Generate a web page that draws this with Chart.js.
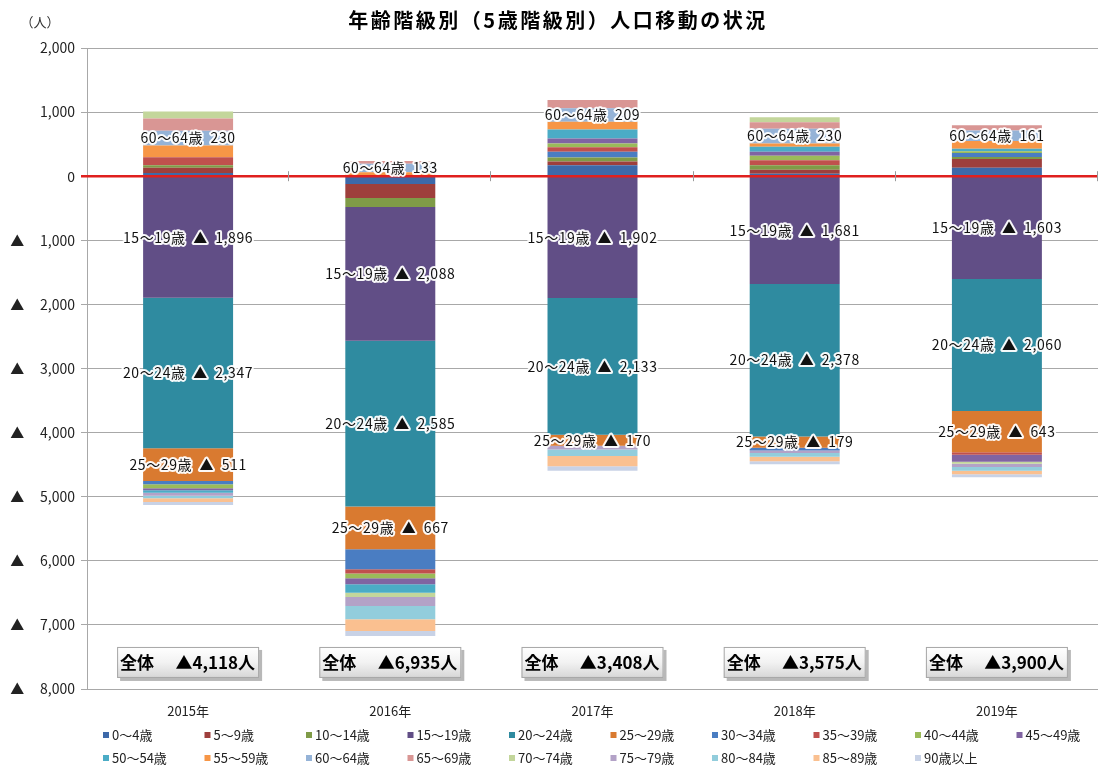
<!DOCTYPE html>
<html>
<head>
<meta charset="utf-8">
<script src="https://cdn.jsdelivr.net/npm/chart.js@4.4.0/dist/chart.umd.min.js"></script>
<style>
  html, body { margin: 0; padding: 0; background: #fff; }
  #wrap { width: 1103px; height: 769px; position: relative; }
</style>
</head>
<body>
<div id="wrap"><canvas id="migrationChart" width="1103" height="769"></canvas></div>
<script>
// 年次（カテゴリ）
const years = ['2015年', '2016年', '2017年', '2018年', '2019年'];
// 全体の転入超過数（▲は転出超過）
const totals = [-4118, -6935, -3408, -3575, -3900];
// 年齢階級
const ageGroups = ['0～4歳', '5～9歳', '10～14歳', '15～19歳', '20～24歳', '25～29歳', '30～34歳',
    '35～39歳', '40～44歳', '45～49歳', '50～54歳', '55～59歳', '60～64歳', '65～69歳',
    '70～74歳', '75～79歳', '80～84歳', '85～89歳', '90歳以上'];

// 年齢階級別の値（2015〜2019）
const age00 = [50, -120, 170, 40, 130];
const age05 = [80, -220, 60, 60, 140];
const age10 = [40, -140, 60, 70, 30];
const age15 = [-1896, -2088, -1902, -1681, -1603];
const age20 = [-2347, -2585, -2133, -2378, -2060];
const age25 = [-511, -667, -170, -179, -643];
const age30 = [-50, -312, 90, -40, 60];
const age35 = [125, -68, 70, 80, -40];
const age40 = [-65, -73, 60, 70, 30];
const age45 = [-30, -94, 80, 60, -110];
const age50 = [-40, -130, 140, 80, 40];
const age55 = [185, 60, 120, 50, 120];
const age60 = [230, 133, 209, 230, 161];
const age65 = [190, 45, 130, 100, 84];
const age70 = [110, -68, 0, 80, -30];
const age75 = [-45, -140, -60, -40, -50];
const age80 = [-40, -208, -100, -60, -60];
const age85 = [-60, -182, -160, -70, -55];
const age90 = [-44, -78, -72, -47, -44];

const seriesValues = [age00, age05, age10, age15, age20, age25, age30, age35, age40, age45,
    age50, age55, age60, age65, age70, age75, age80, age85, age90];

const seriesColors = ['#3D69A9', '#9E3F3C', '#7F9B47', '#614E86', '#2F8BA0', '#D97A30', '#4A7DC2',
    '#C0504D', '#9BBB59', '#8064A2', '#4BACC6', '#F79646', '#95B3D7', '#D99694',
    '#C3D69B', '#B3A2C7', '#92CDDC', '#FAC090', '#C8D2E6'];

// ラベルを付ける系列
const labelledSeries = [3, 4, 5, 12];

const jpFont = '"Noto Sans CJK JP", "Noto Sans", sans-serif';

function fmt(n) {
    return Math.abs(n).toLocaleString('en-US');
}

// 0ライン・データラベル・全体ボックス・凡例・タイトル
const overlayPlugin = {
    id: 'overlay',
    afterDatasetsDraw(chart) {
        const ctx = chart.ctx;
        const area = chart.chartArea;
        const yScale = chart.scales.y;
        const xScale = chart.scales.x;
        const y0 = yScale.getPixelForValue(0);

        // ✅ 0 line (red)
        ctx.save();
        ctx.strokeStyle = '#E0201E';
        ctx.lineWidth = 2.5;
        ctx.beginPath();
        ctx.moveTo(area.left - 6, y0);
        ctx.lineTo(area.right, y0);
        ctx.stroke();
        // category boundary ticks on the zero line
        ctx.strokeStyle = '#999';
        ctx.lineWidth = 1;
        const step = (area.right - area.left) / years.length;
        for (let k = 1; k <= years.length; k++) {
            const x = Math.round(area.left + step * k) - 0.5;
            ctx.beginPath();
            ctx.moveTo(x, y0 - 5);
            ctx.lineTo(x, y0 + 5);
            ctx.stroke();
        }
        ctx.restore();

        // ✅ data labels
        ctx.save();
        ctx.font = '14px ' + jpFont;
        ctx.letterSpacing = '0.6px';
        ctx.textAlign = 'center';
        ctx.textBaseline = 'middle';
        ctx.lineJoin = 'round';
        labelledSeries.forEach(function (si) {
            const meta = chart.getDatasetMeta(si);
            meta.data.forEach(function (bar, j) {
                const v = seriesValues[si][j];
                const txt = ageGroups[si] + '  ' + (v < 0 ? '▲  ' : '') + fmt(v);
                const ym = (bar.y + bar.base) / 2;
                ctx.strokeStyle = 'rgba(255,255,255,0.95)';
                ctx.lineWidth = 4;
                ctx.strokeText(txt, bar.x, ym);
                ctx.fillStyle = '#111';
                ctx.fillText(txt, bar.x, ym);
            });
        });
        ctx.restore();

        // ✅ 全体 boxes
        ctx.save();
        const boxY = yScale.getPixelForValue(-7500) - 10;
        totals.forEach(function (t, j) {
            const cx = xScale.getPixelForValue(j);
            const w = 142, h = 31;
            const x = cx - w / 2;
            ctx.fillStyle = '#B8B8B8';
            ctx.fillRect(x + 3, boxY + 3, w, h);
            const g = ctx.createLinearGradient(0, boxY, 0, boxY + h);
            g.addColorStop(0, '#FFFFFF');
            g.addColorStop(0.5, '#F2F2F2');
            g.addColorStop(1, '#D6D6D6');
            ctx.fillStyle = g;
            ctx.fillRect(x, boxY, w, h);
            ctx.strokeStyle = '#A6A6A6';
            ctx.lineWidth = 1;
            ctx.strokeRect(x + 0.5, boxY + 0.5, w - 1, h - 1);
            ctx.fillStyle = '#000';
            ctx.font = 'bold 17px ' + jpFont;
            ctx.textBaseline = 'middle';
            ctx.textAlign = 'left';
            ctx.fillText('全体', x + 3, boxY + h / 2);
            ctx.textAlign = 'right';
            ctx.fillText('▲' + fmt(t) + '人', x + w - 4, boxY + h / 2);
        });
        ctx.restore();
    },
    afterDraw(chart) {
        const ctx = chart.ctx;
        ctx.save();
        // title
        ctx.fillStyle = '#000';
        ctx.font = 'bold 20px ' + jpFont;
        ctx.letterSpacing = '2.5px';
        ctx.textAlign = 'center';
        ctx.textBaseline = 'middle';
        ctx.fillText('年齢階級別（5歳階級別）人口移動の状況', 558, 20);
        ctx.letterSpacing = '0px';
        // unit
        ctx.font = '13px ' + jpFont;
        ctx.fillStyle = '#333';
        ctx.fillText('（人）', 40, 22);

        // legend grid
        ctx.font = '13px ' + jpFont;
        ctx.textAlign = 'left';
        ctx.textBaseline = 'middle';
        ageGroups.forEach(function (name, i) {
            const row = i < 10 ? 0 : 1;
            const col = i < 10 ? i : i - 10;
            const x = 103 + col * 101.5;
            const y = row === 0 ? 735 : 758;
            ctx.fillStyle = seriesColors[i];
            ctx.fillRect(x, y - 3, 6, 6);
            ctx.fillStyle = '#222';
            ctx.fillText(name, x + 9, y);
        });
        ctx.restore();
    }
};

document.addEventListener('DOMContentLoaded', function () {
    const ctx = document.getElementById('migrationChart').getContext('2d');
    new Chart(ctx, {
        type: 'bar',
        data: {
            labels: years,
            datasets: seriesValues.map(function (vals, i) {
                return {
                    label: ageGroups[i],
                    data: vals,
                    backgroundColor: seriesColors[i],
                    borderWidth: 0,
                    categoryPercentage: 1,
                    barPercentage: 0.445
                };
            })
        },
        options: {
            responsive: false,
            animation: false,
            layout: { padding: { top: 48, right: 5, bottom: 0, left: 0 } },
            plugins: {
                legend: { display: false },
                title: { display: false },
                tooltip: { enabled: false }
            },
            scales: {
                x: {
                    stacked: true,
                    grid: { display: false, drawTicks: false },
                    border: { display: false },
                    ticks: { color: '#222', font: { family: jpFont, size: 13 }, padding: 14 },
                    afterFit: function (s) { s.height = 80; }
                },
                y: {
                    stacked: true,
                    min: -8000,
                    max: 2000,
                    grid: { color: '#A8A8A8', lineWidth: 1, tickLength: 6 },
                    border: { display: true, color: '#A8A8A8' },
                    ticks: {
                        stepSize: 1000,
                        color: '#222',
                        font: { family: jpFont, size: 14 },
                        padding: 6,
                        callback: function (v) {
                            return v < 0 ? '▲     ' + fmt(v) : fmt(v);
                        }
                    },
                    afterFit: function (s) { s.width = 87; }
                }
            }
        },
        plugins: [overlayPlugin]
    });
});
</script>
</body>
</html>
